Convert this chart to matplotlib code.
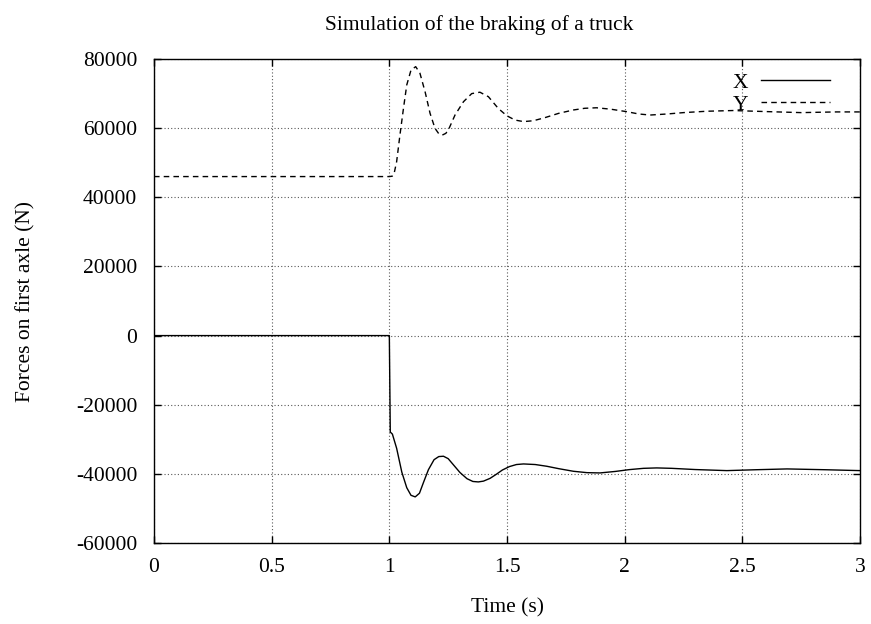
import numpy as np
import matplotlib.pyplot as plt

plt.rcParams['font.family'] = ['Liberation Serif', 'DejaVu Serif']
plt.rcParams['axes.unicode_minus'] = False

# force X (longitudinal)
t_x = [0.0, 1.0, 1.004, 1.013, 1.031, 1.053, 1.074, 1.092, 1.11, 1.128, 1.145, 1.166,
       1.19, 1.21, 1.23, 1.25, 1.275, 1.30, 1.33, 1.355, 1.378, 1.40, 1.428, 1.455,
       1.48, 1.51, 1.54, 1.57, 1.62, 1.669, 1.72, 1.782, 1.84, 1.895, 1.96, 2.02,
       2.08, 2.136, 2.2, 2.3, 2.434, 2.56, 2.69, 2.85, 3.0]
f_x = [0, 0, -27900, -28500, -32600, -39500, -44000, -46200, -46660, -45600, -42500, -38800,
       -35900, -35000, -34900, -35600, -37600, -39600, -41400, -42200, -42330, -42100, -41300, -40100,
       -38900, -37900, -37300, -37130, -37300, -37800, -38500, -39250, -39650, -39730, -39300, -38770,
       -38400, -38280, -38400, -38750, -39060, -38800, -38570, -38800, -39060]

# force Y (vertical)
t_y = [0.0, 1.0, 1.012, 1.02, 1.031, 1.045, 1.06, 1.074, 1.092, 1.112, 1.13, 1.152,
       1.173, 1.194, 1.21, 1.225, 1.24, 1.251, 1.279, 1.315, 1.35, 1.385, 1.421, 1.463,
       1.499, 1.534, 1.57, 1.612, 1.659, 1.72, 1.782, 1.83, 1.88, 1.94, 2.009, 2.06,
       2.108, 2.18, 2.25, 2.35, 2.46, 2.6, 2.75, 2.9, 3.0]
f_y = [46000, 46000, 46100, 46800, 50300, 58000, 65700, 72500, 76800, 77800, 75900, 70500,
       64300, 59950, 58400, 58000, 58500, 59500, 63800, 67650, 70000, 70400, 69100, 65700,
       63600, 62350, 61900, 62150, 63000, 64300, 65260, 65750, 65900, 65500, 64770, 64100,
       63800, 64100, 64500, 64900, 65100, 64800, 64500, 64700, 64700]

fig = plt.figure(figsize=(8.71, 6.24), dpi=100)
ax = fig.add_axes([0.1768, 0.1298, 0.8106, 0.7756])

ax.plot(t_x, f_x, color='black', lw=1.0, label='X')
ax.plot(t_y, f_y, color='black', lw=1.0, dashes=(4, 3), label='Y')

ax.set_xlim(0, 3)
ax.set_ylim(-60000, 80000)
ax.set_xticks([0, 0.5, 1, 1.5, 2, 2.5, 3])
ax.set_xticklabels(['0', '0.5', '1', '1.5', '2', '2.5', '3'])
ax.set_yticks(np.arange(-60000, 80001, 20000))
ax.grid(True, color='0.35', linestyle=(0, (1, 2)), lw=0.8)

ax.tick_params(direction='in', top=True, right=True, length=5, width=1,
               labelsize=15.5, pad=12)
ax.tick_params(axis='x', pad=11)
for s in ax.spines.values():
    s.set_linewidth(1.0)

fig.text(479 / 871, 1 - 25 / 624, 'Simulation of the braking of a truck',
         fontsize=15.5, ha='center', va='center')
ax.set_xlabel('Time (s)', fontsize=15.5)
ax.set_ylabel('Forces on first axle (N)', fontsize=15.5)
ax.xaxis.set_label_coords(0.5, -0.114)
ax.yaxis.set_label_coords(-0.168, 0.5)

ax.legend(loc='upper right', bbox_to_anchor=(0.97, 0.99), frameon=False,
          markerfirst=False, fontsize=15.5, handlelength=3.2, labelspacing=0.1,
          handletextpad=0.6, borderaxespad=0)

fig.savefig('out.png', dpi=100)
